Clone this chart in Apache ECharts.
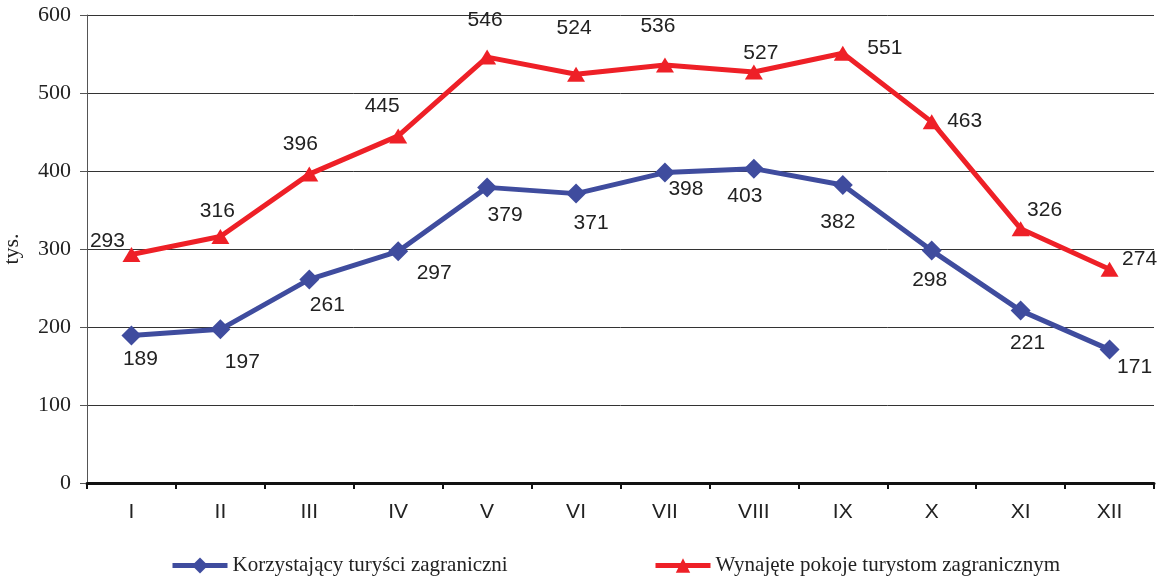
<!DOCTYPE html>
<html><head><meta charset="utf-8">
<script src="https://cdn.jsdelivr.net/npm/echarts@6/dist/echarts.min.js"></script>
<style>html,body{margin:0;padding:0;background:#fff}#c{width:1172px;height:581px}</style>
</head><body><div id="c"></div>
<script>
const categories = ['I','II','III','IV','V','VI','VII','VIII','IX','X','XI','XII'];
const tourists = [189,197,261,297,379,371,398,403,382,298,221,171];
const rooms = [293,316,396,445,546,524,536,527,551,463,326,274];
const yTicks = [0,100,200,300,400,500,600];
const seriesNames = ['Korzystający turyści zagraniczni','Wynajęte pokoje turystom zagranicznym'];
// label offsets (layout only)
const touristsLabelOffsets = [[9,24],[22,33],[18,26],[36,22],[18,28],[15,30],[21,17],[-9,28],[-5,37],[-2,30],[7,33],[25,18]];
const roomsLabelOffsets = [[-24,-13],[-3,-25],[-9,-30],[-16,-30],[-2,-37],[-2,-46],[-7,-39],[7,-19],[42,-5],[33,-1],[24,-19],[30,-10]];

const labelStyle = {show:true, position:'inside', fontFamily:'Liberation Sans, Arial, sans-serif', fontSize:21, color:'#222'};
function mk(vals, offs){
  return vals.map((v,i)=>({value:v, label:Object.assign({}, labelStyle, {offset:offs[i]})}));
}
const serif = 'Liberation Serif, Times New Roman, serif';
const chart = echarts.init(document.getElementById('c'), null, {renderer:'canvas'});
chart.setOption({
  animation:false,
  grid:{left:87, right:18, top:15, bottom:98, containLabel:false, outerBoundsMode:'none'},
  legend:[
    {data:[seriesNames[0]], left:165, top:550, itemWidth:55, itemHeight:20, itemGap:6,
     lineStyle:{width:5},
     textStyle:{fontFamily:serif, fontSize:21, color:'#222'}},
    {data:[seriesNames[1]], left:648, top:550, itemWidth:55, itemHeight:18, itemGap:6,
     lineStyle:{width:5},
     textStyle:{fontFamily:serif, fontSize:21, color:'#222'}}
  ],
  xAxis:{type:'category', data:categories, boundaryGap:true,
    axisLine:{lineStyle:{color:'#111', width:3}},
    axisTick:{show:true, length:6, lineStyle:{color:'#111', width:2}},
    axisLabel:{fontFamily:'Liberation Sans, Arial, sans-serif', fontSize:21, color:'#222', margin:19},
    splitLine:{show:false}},
  yAxis:{type:'value', min:yTicks[0], max:yTicks[yTicks.length-1], interval:100,
    name:'tys.', nameLocation:'middle', nameRotate:90, nameGap:64,
    nameTextStyle:{fontFamily:serif, fontSize:22, color:'#222'},
    axisLine:{show:true, lineStyle:{color:'#555', width:1}},
    axisTick:{show:true, inside:false, length:7, lineStyle:{color:'#555'}},
    axisLabel:{fontFamily:serif, fontSize:22, color:'#222', margin:16},
    splitLine:{show:true, lineStyle:{color:'#333', width:1}}},
  series:[
    {name:seriesNames[0], type:'line', data:mk(tourists, touristsLabelOffsets),
     symbol:'diamond', symbolSize:20, lineStyle:{color:'#3f4c9e', width:5},
     itemStyle:{color:'#3f4c9e'}, z:3},
    {name:seriesNames[1], type:'line', data:mk(rooms, roomsLabelOffsets),
     symbol:'triangle', symbolSize:[18,15], lineStyle:{color:'#ee2027', width:5},
     itemStyle:{color:'#ee2027'}, z:4}
  ]
});
</script></body></html>
